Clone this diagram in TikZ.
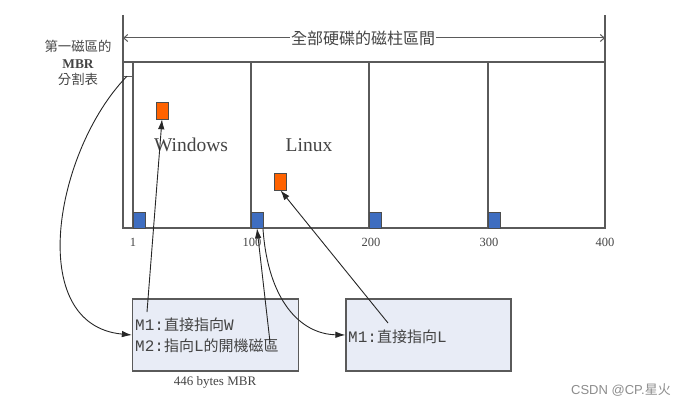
\documentclass[tikz,border=0pt]{standalone}
\usepackage{fontspec}
\setmainfont{Liberation Serif}
\setmonofont{Liberation Mono}
\newfontfamily\cjk{Noto Sans CJK TC}
\newfontfamily\wmfont{Liberation Sans}
\usetikzlibrary{arrows.meta}
\definecolor{framegray}{HTML}{5A5A5A}
\definecolor{txtgray}{HTML}{444444}
\definecolor{bluesq}{HTML}{3E6DC0}
\definecolor{orangesq}{HTML}{FF6200}
\definecolor{boxfill}{HTML}{E8ECF6}
\newcommand{\mlat}[1]{{\ttfamily\fontsize{16}{21}\selectfont #1}}
\begin{document}
\begin{tikzpicture}[x=1pt,y=-1pt,
  frame/.style={draw=framegray,line width=1.4pt},
  conn/.style={draw=black!85,line width=0.9pt,-{Latex[length=10pt,width=6.5pt]}},
  spanarrow/.style={draw=framegray,line width=1pt,-{Straight Barb[length=4pt,width=7pt]}},
  bluebox/.style={draw=black!70,fill=bluesq,line width=0.6pt,minimum width=12pt,minimum height=16pt,inner sep=0pt},
  orangebox/.style={draw=black!70,fill=orangesq,line width=0.6pt,minimum width=12pt,minimum height=17pt,inner sep=0pt},
  mbox/.style={draw=framegray,fill=boxfill,line width=1.3pt,minimum height=72pt,inner sep=0pt},
  numlabel/.style={font=\fontsize{12.5}{14}\selectfont,text=txtgray,inner sep=0pt},
  oslabel/.style={font=\fontsize{19.5}{22}\selectfont,text=txtgray,inner sep=0pt},
  boxtext/.style={font=\cjk\fontsize{15}{21}\selectfont,text=txtgray,inner sep=0pt,align=left,anchor=west}
]
\useasboundingbox (0,0) rectangle (690,404);
% frame
\draw[frame] (123,15) -- (123,228) -- (605,228) -- (605,15);
\draw[frame] (123,62) -- (605,62);
\foreach \xx in {133,251,369,488} \draw[frame] (\xx,62) -- (\xx,228);
\draw[framegray,line width=1pt] (123,76) -- (133,76);
\node[minimum width=10pt,minimum height=14pt,inner sep=0pt] (mbr) at (127,69) {};
% span label
\coordinate (sl) at (123,38);
\coordinate (sr) at (605,38);
\node[fill=white,inner sep=1pt,text=txtgray,font=\cjk\fontsize{16}{18}\selectfont] (span) at (363,38) {全部硬碟的磁柱區間};
\draw[spanarrow] (span.west) -- (sl);
\draw[spanarrow] (span.east) -- (sr);
% left label
\node[text=txtgray,align=center,inner sep=0pt,font=\fontsize{13.4}{16.5}\selectfont] (lbl) at (78,63)
  {{\cjk 第一磁區的}\\
   {\bfseries MBR}\\
   {\cjk 分割表}};
% blue squares
\node[bluebox] (b1) at (139,220) {};
\node[bluebox] (b100) at (257,220) {};
\node[bluebox] (b200) at (375,220) {};
\node[bluebox] (b300) at (494,220) {};
% orange squares
\node[orangebox] (ow) at (162,110.5) {};
\node[orangebox] (ol) at (280.5,181.5) {};
% OS labels
\node[oslabel] (win) at (191,145) {Windows};
\node[oslabel] (lin) at (309,145) {Linux};
% numbers
\node[numlabel] (n1) at (133,242) {1};
\node[numlabel] (n100) at (252,242) {100};
\node[numlabel] (n200) at (371,242) {200};
\node[numlabel] (n300) at (489,242) {300};
\node[numlabel] (n400) at (605,242) {400};
% MBR boxes
\node[mbox,minimum width=166pt] (box1) at (215.5,335) {};
\node[mbox,minimum width=165pt] (box2) at (428.5,335) {};
\node[boxtext] (t1) at (135,335) {\mlat{M1:}直接指向\mlat{W}\\\mlat{M2:}指向\mlat{L}的開機磁區};
\node[boxtext] (t2) at (348,337) {\mlat{M1:}直接指向\mlat{L}};
\node[font=\fontsize{13}{15}\selectfont,text=txtgray,inner sep=0pt] (cap) at (215,382) {446 bytes MBR};
% connectors
\coordinate (m1w) at (147,312);
\coordinate (m2l) at (270,342);
\coordinate (m1l) at (388,323);
\coordinate (b100r) at (263,229);
\draw[conn] (mbr.south) .. controls (55,150) and (24,325) .. (box1.west);
\draw[conn] (m1w) -- (ow.south);
\draw[conn] (m2l) -- (b100.south);
\draw[conn] (b100r) .. controls (268,300) and (300,334) .. (box2.west);
\draw[conn] (m1l) -- (ol.south);
% watermark
\node[text=black!45,inner sep=0pt,font=\fontsize{13}{15}\selectfont] (wm) at (621,390) {{\wmfont CSDN @CP.}{\cjk 星火}};
\end{tikzpicture}
\end{document}
